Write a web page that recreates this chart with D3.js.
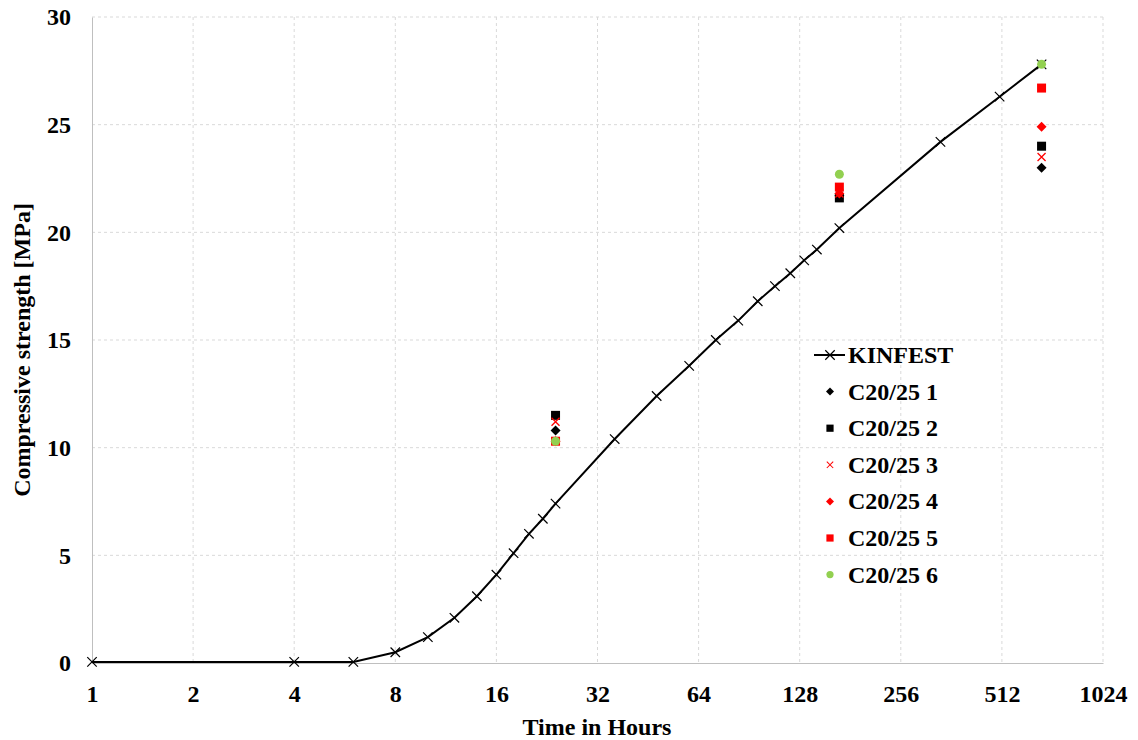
<!DOCTYPE html>
<html>
<head>
<meta charset="utf-8">
<script src="https://cdn.jsdelivr.net/npm/d3@7"></script>
<style>
  body { margin: 0; background: #fff; }
  text { font-family: "Liberation Serif", "Times New Roman", serif; font-weight: bold; }
</style>
</head>
<body>
<div id="container"></div>
<script>
const kinfestHours = [1, 4, 6, 8, 10, 12, 14, 16, 18, 20, 22, 24, 36, 48, 60, 72, 84, 96, 108, 120, 132, 144, 168, 336, 504, 672];
const kinfestStrength = [0.05, 0.05, 0.05, 0.5, 1.2, 2.1, 3.1, 4.1, 5.1, 6.0, 6.7, 7.4, 10.4, 12.4, 13.8, 15.0, 15.9, 16.8, 17.5, 18.1, 18.7, 19.2, 20.2, 24.2, 26.3, 27.8];

const testHours = [24, 168, 672];
const c1 = [10.8, 21.7, 23.0];
const c2 = [11.5, 21.6, 24.0];
const c3 = [11.2, 21.8, 23.5];
const c4 = [10.3, 21.8, 24.9];
const c5 = [10.3, 22.1, 26.7];
const c6 = [10.3, 22.7, 27.8];

const xTicks = [1, 2, 4, 8, 16, 32, 64, 128, 256, 512, 1024];
const yTicks = [0, 5, 10, 15, 20, 25, 30];

main();

function main() {
  const width = 1138;
  const height = 740;
  const margin = { top: 17, right: 35, bottom: 77, left: 92 };
  const innerWidth = width - margin.left - margin.right;
  const innerHeight = height - margin.top - margin.bottom;
  const fontSize = 24;

  const svg = d3.select("#container").append("svg")
    .attr("width", width).attr("height", height);
  const g = svg.append("g").attr("transform", `translate(${margin.left}, ${margin.top})`);

  const scaleX = d3.scaleLog().base(2).domain([1, 1024]).range([0, innerWidth]);
  const scaleY = d3.scaleLinear().domain([0, 30]).range([innerHeight, 0]);

  // grid
  g.append("g").selectAll("line").data(xTicks.slice(1)).join("line")
    .attr("x1", (d) => scaleX(d)).attr("x2", (d) => scaleX(d))
    .attr("y1", 0).attr("y2", innerHeight)
    .attr("stroke", "#d9d9d9").attr("stroke-dasharray", "3,3");
  g.append("g").selectAll("line").data(yTicks.slice(1)).join("line")
    .attr("x1", 0).attr("x2", innerWidth)
    .attr("y1", (d) => scaleY(d)).attr("y2", (d) => scaleY(d))
    .attr("stroke", "#d9d9d9").attr("stroke-dasharray", "3,3");

  // axes
  const axisX = g.append("g").attr("transform", `translate(0, ${innerHeight})`)
    .call(d3.axisBottom(scaleX).tickValues(xTicks).tickFormat(d3.format("d")).tickSize(0).tickPadding(22));
  const axisY = g.append("g")
    .call(d3.axisLeft(scaleY).tickValues(yTicks).tickSize(0).tickPadding(21));
  [axisX, axisY].forEach((a) => {
    a.select(".domain").attr("stroke", "#bfbfbf");
    a.selectAll("text").attr("font-size", fontSize).attr("fill", "#000")
      .attr("font-family", "Liberation Serif, serif").attr("font-weight", "bold");
  });

  svg.append("text")
    .attr("x", 597).attr("y", 735)
    .attr("text-anchor", "middle").attr("font-size", fontSize).text("Time in Hours");
  svg.append("text")
    .attr("transform", `translate(30, 350) rotate(-90)`)
    .attr("text-anchor", "middle").attr("font-size", fontSize).text("Compressive strength [MPa]");

  // KINFEST line
  const kinfest = kinfestHours.map((h, i) => ({ x: h, y: kinfestStrength[i] }));
  const line = d3.line().x((d) => scaleX(d.x)).y((d) => scaleY(d.y));
  g.append("path").datum(kinfest).attr("d", line)
    .attr("fill", "none").attr("stroke", "#000").attr("stroke-width", 2);
  const crossPath = d3.symbol(d3.symbolX, 60)();
  g.append("g").selectAll("path").data(kinfest).join("path")
    .attr("d", crossPath)
    .attr("transform", (d) => `translate(${scaleX(d.x)}, ${scaleY(d.y)})`)
    .attr("stroke", "#000").attr("stroke-width", 1.2).attr("fill", "none");

  const series = [
    { name: "C20/25 1", values: c1, color: "#000", shape: "diamond" },
    { name: "C20/25 2", values: c2, color: "#000", shape: "square" },
    { name: "C20/25 3", values: c3, color: "#ff0000", shape: "x" },
    { name: "C20/25 4", values: c4, color: "#ff0000", shape: "diamond" },
    { name: "C20/25 5", values: c5, color: "#ff0000", shape: "square" },
    { name: "C20/25 6", values: c6, color: "#92d050", shape: "circle" },
  ];

  function drawMarker(sel, shape, color) {
    if (shape === "diamond") {
      sel.append("path").attr("d", "M0,-5L5,0L0,5L-5,0Z").attr("fill", color);
    } else if (shape === "square") {
      sel.append("rect").attr("x", -4.5).attr("y", -4.5).attr("width", 9).attr("height", 9).attr("fill", color);
    } else if (shape === "x") {
      sel.append("path").attr("d", "M-4,-4L4,4M-4,4L4,-4").attr("stroke", color).attr("stroke-width", 1.3);
    } else {
      sel.append("circle").attr("r", 4.5).attr("fill", color);
    }
  }

  series.forEach((s) => {
    g.append("g").selectAll("g").data(s.values).join("g")
      .attr("transform", (d, i) => `translate(${scaleX(testHours[i])}, ${scaleY(d)})`)
      .each(function () { drawMarker(d3.select(this), s.shape, s.color); });
  });

  // legend
  const legend = svg.append("g").attr("transform", "translate(814, 355)");
  const rowH = 36.6;
  const k = legend.append("g");
  k.append("line").attr("x1", 0).attr("x2", 31).attr("y1", 0).attr("y2", 0)
    .attr("stroke", "#000").attr("stroke-width", 2);
  k.append("path").attr("d", crossPath).attr("transform", "translate(16, 0)")
    .attr("stroke", "#000").attr("stroke-width", 1.2).attr("fill", "none");
  k.append("text").attr("x", 34).attr("y", 8).attr("font-size", fontSize).text("KINFEST");
  series.forEach((s, i) => {
    const row = legend.append("g").attr("transform", `translate(0, ${(i + 1) * rowH})`);
    const m = row.append("g").attr("transform", "translate(16, 0) scale(0.8)");
    drawMarker(m, s.shape, s.color);
    row.append("text").attr("x", 34).attr("y", 8).attr("font-size", fontSize).text(s.name);
  });
}
</script>
</body>
</html>
